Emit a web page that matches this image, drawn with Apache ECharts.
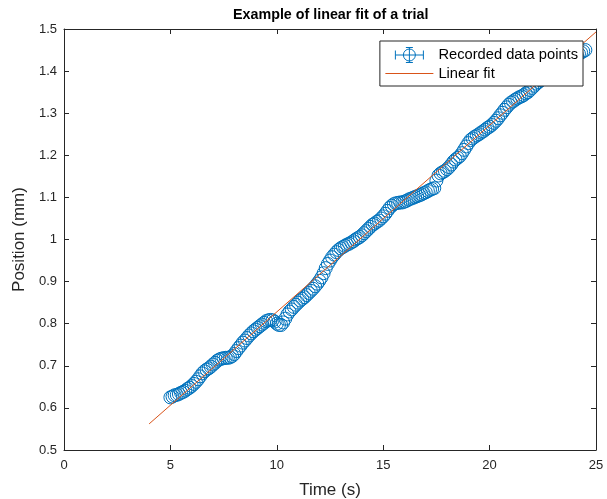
<!DOCTYPE html>
<html>
<head>
<meta charset="utf-8">
<script src="https://cdn.jsdelivr.net/npm/echarts@6/dist/echarts.min.js"></script>
<style>
html,body{margin:0;padding:0;background:#fff;}
#chart{width:607px;height:499px;}
</style>
</head>
<body>
<div id="chart"></div>
<script>
// ---- data ----
const timeS = [
5.0,5.1,5.2,5.3,5.4,5.5,5.6,5.7,5.8,5.9,
6.0,6.1,6.2,6.3,6.4,6.5,6.6,6.7,6.8,6.9,
7.0,7.1,7.2,7.3,7.4,7.5,7.6,7.7,7.8,7.9,
8.0,8.1,8.2,8.3,8.4,8.5,8.6,8.7,8.8,8.9,
9.0,9.1,9.2,9.3,9.4,9.5,9.6,9.7,9.8,9.9,
10.0,10.1,10.2,10.3,10.4,10.5,10.6,10.7,10.8,10.9,
11.0,11.1,11.2,11.3,11.4,11.5,11.6,11.7,11.8,11.9,
12.0,12.1,12.2,12.3,12.4,12.5,12.6,12.7,12.8,12.9,
13.0,13.1,13.2,13.3,13.4,13.5,13.6,13.7,13.8,13.9,
14.0,14.1,14.2,14.3,14.4,14.5,14.6,14.7,14.8,14.9,
15.0,15.1,15.2,15.3,15.4,15.5,15.6,15.7,15.8,15.9,
16.0,16.1,16.2,16.3,16.4,16.5,16.6,16.7,16.8,16.9,
17.0,17.1,17.2,17.3,17.4,17.5,17.6,17.7,17.8,17.9,
18.0,18.1,18.2,18.3,18.4,18.5,18.6,18.7,18.8,18.9,
19.0,19.1,19.2,19.3,19.4,19.5,19.6,19.7,19.8,19.9,
20.0,20.1,20.2,20.3,20.4,20.5,20.6,20.7,20.8,20.9,
21.0,21.1,21.2,21.3,21.4,21.5,21.6,21.7,21.8,21.9,
22.0,22.1,22.2,22.3,22.4,22.5,22.6,22.7,22.8,22.9,
23.0,23.1,23.2,23.3,23.4,23.5,23.6,23.7,23.8,23.9,
24.0,24.1,24.2,24.3,24.4,24.5
];
const positionMm = [
0.625,0.627,0.630,0.631,0.633,0.636,0.638,0.641,0.645,0.648,
0.652,0.657,0.662,0.668,0.675,0.682,0.687,0.691,0.694,0.698,
0.703,0.707,0.712,0.715,0.717,0.718,0.719,0.719,0.720,0.723,
0.728,0.735,0.742,0.748,0.755,0.760,0.766,0.772,0.777,0.782,
0.786,0.790,0.794,0.798,0.802,0.806,0.808,0.809,0.808,0.805,
0.800,0.797,0.797,0.803,0.812,0.822,0.829,0.834,0.840,0.845,
0.850,0.855,0.859,0.863,0.868,0.873,0.878,0.883,0.889,0.895,
0.902,0.910,0.920,0.932,0.942,0.950,0.958,0.964,0.970,0.975,
0.979,0.982,0.985,0.988,0.990,0.993,0.996,1.000,1.003,1.006,
1.010,1.015,1.020,1.025,1.030,1.035,1.038,1.042,1.045,1.050,
1.055,1.061,1.068,1.075,1.080,1.084,1.086,1.087,1.088,1.088,
1.090,1.092,1.095,1.097,1.099,1.101,1.103,1.105,1.107,1.110,
1.112,1.115,1.118,1.120,1.122,1.140,1.152,1.157,1.160,1.163,
1.167,1.172,1.178,1.185,1.190,1.194,1.198,1.205,1.213,1.221,
1.229,1.236,1.240,1.244,1.247,1.250,1.254,1.257,1.261,1.265,
1.268,1.272,1.277,1.282,1.288,1.295,1.301,1.308,1.314,1.320,
1.325,1.328,1.332,1.335,1.338,1.340,1.343,1.347,1.350,1.355,
1.360,1.365,1.370,1.374,1.378,1.382,1.386,1.389,1.393,1.397,
1.400,1.404,1.408,1.412,1.416,1.420,1.423,1.426,1.429,1.432,
1.435,1.438,1.441,1.444,1.447,1.450
];
const fitTime = [4, 25];
const fitPosition = [0.562, 1.493];
const xTicks = [0, 5, 10, 15, 20, 25];
const yTicks = [0.5, 0.6, 0.7, 0.8, 0.9, 1, 1.1, 1.2, 1.3, 1.4, 1.5];

// ---- chart ----
const FONT = '"Liberation Sans", Arial, Helvetica, sans-serif';
const AX = '#262626';
const BLUE = '#0072BD';
const ORANGE = '#D95319';
const scatterData = timeS.map((t, i) => [t, positionMm[i]]);
const fitData = fitTime.map((t, i) => [t, fitPosition[i]]);
const errIcon = 'path://M0 7.5L28 7.5M0 3L0 12M28 3L28 12M14 0L14 15M10.5 0L17.5 0M10.5 15L17.5 15M20 7.5A6 6 0 1 1 8 7.5A6 6 0 1 1 20 7.5Z';

const chart = echarts.init(document.getElementById('chart'), null, {renderer: 'canvas'});
const baseX = {
  type: 'value', min: xTicks[0], max: xTicks[xTicks.length - 1], interval: xTicks[1] - xTicks[0],
  axisLine: {show: true, onZero: false, lineStyle: {color: AX, width: 1}},
  axisTick: {show: true, inside: true, length: 5, lineStyle: {color: AX}},
  splitLine: {show: false}
};
const baseY = {
  type: 'value', min: yTicks[0], max: yTicks[yTicks.length - 1], interval: 0.1,
  axisLine: {show: true, onZero: false, lineStyle: {color: AX, width: 1}},
  axisTick: {show: true, inside: true, length: 5, lineStyle: {color: AX}},
  splitLine: {show: false}
};
chart.setOption({
  animation: false,
  backgroundColor: '#fff',
  textStyle: {fontFamily: FONT},
  title: {
    text: 'Example of linear fit of a trial',
    left: 228, top: 3,
    textStyle: {fontFamily: FONT, fontSize: 14.3, fontWeight: 'bold', color: '#000'}
  },
  grid: {left: 64, right: 11, top: 29, bottom: 49, containLabel: false, outerBoundsMode: 'none'},
  legend: {
    orient: 'vertical', right: 24, top: 41,
    backgroundColor: '#fff', borderColor: AX, borderWidth: 1,
    padding: [6, 5, 5, 5], itemGap: 3, itemWidth: 48, itemHeight: 15,
    textStyle: {fontFamily: FONT, fontSize: 14.7, color: '#000'},
    data: [
      {name: 'Recorded data points', icon: errIcon,
       itemStyle: {color: 'rgba(0,0,0,0)', borderColor: BLUE, borderWidth: 1}},
      {name: 'Linear fit', itemStyle: {opacity: 0}, lineStyle: {width: 1, color: ORANGE}}
    ]
  },
  xAxis: [
    Object.assign({}, baseX, {
      position: 'bottom',
      axisLabel: {show: true, color: AX, fontSize: 13, margin: 9, fontFamily: FONT},
      name: 'Time (s)', nameLocation: 'middle', nameGap: 32,
      nameTextStyle: {color: AX, fontSize: 17, fontFamily: FONT}
    }),
    Object.assign({}, baseX, {position: 'top', axisLabel: {show: false}})
  ],
  yAxis: [
    Object.assign({}, baseY, {
      position: 'left',
      axisLabel: {show: true, color: AX, fontSize: 13, margin: 7, fontFamily: FONT,
        formatter: v => String(+(+v).toFixed(1))},
      name: 'Position (mm)', nameLocation: 'middle', nameGap: 35,
      nameTextStyle: {color: AX, fontSize: 17, fontFamily: FONT}
    }),
    Object.assign({}, baseY, {position: 'right', axisLabel: {show: false}})
  ],
  series: [
    {
      name: 'Recorded data points', type: 'scatter', xAxisIndex: 0, yAxisIndex: 0,
      symbol: 'circle', symbolSize: 13,
      itemStyle: {color: 'rgba(0,0,0,0)', borderColor: BLUE, borderWidth: 1, opacity: 1},
      data: scatterData, z: 2
    },
    {
      name: 'Linear fit', type: 'line', xAxisIndex: 0, yAxisIndex: 0,
      showSymbol: false, symbol: 'none',
      lineStyle: {color: ORANGE, width: 1}, itemStyle: {color: ORANGE},
      data: fitData, z: 3
    }
  ]
});
</script>
</body>
</html>
